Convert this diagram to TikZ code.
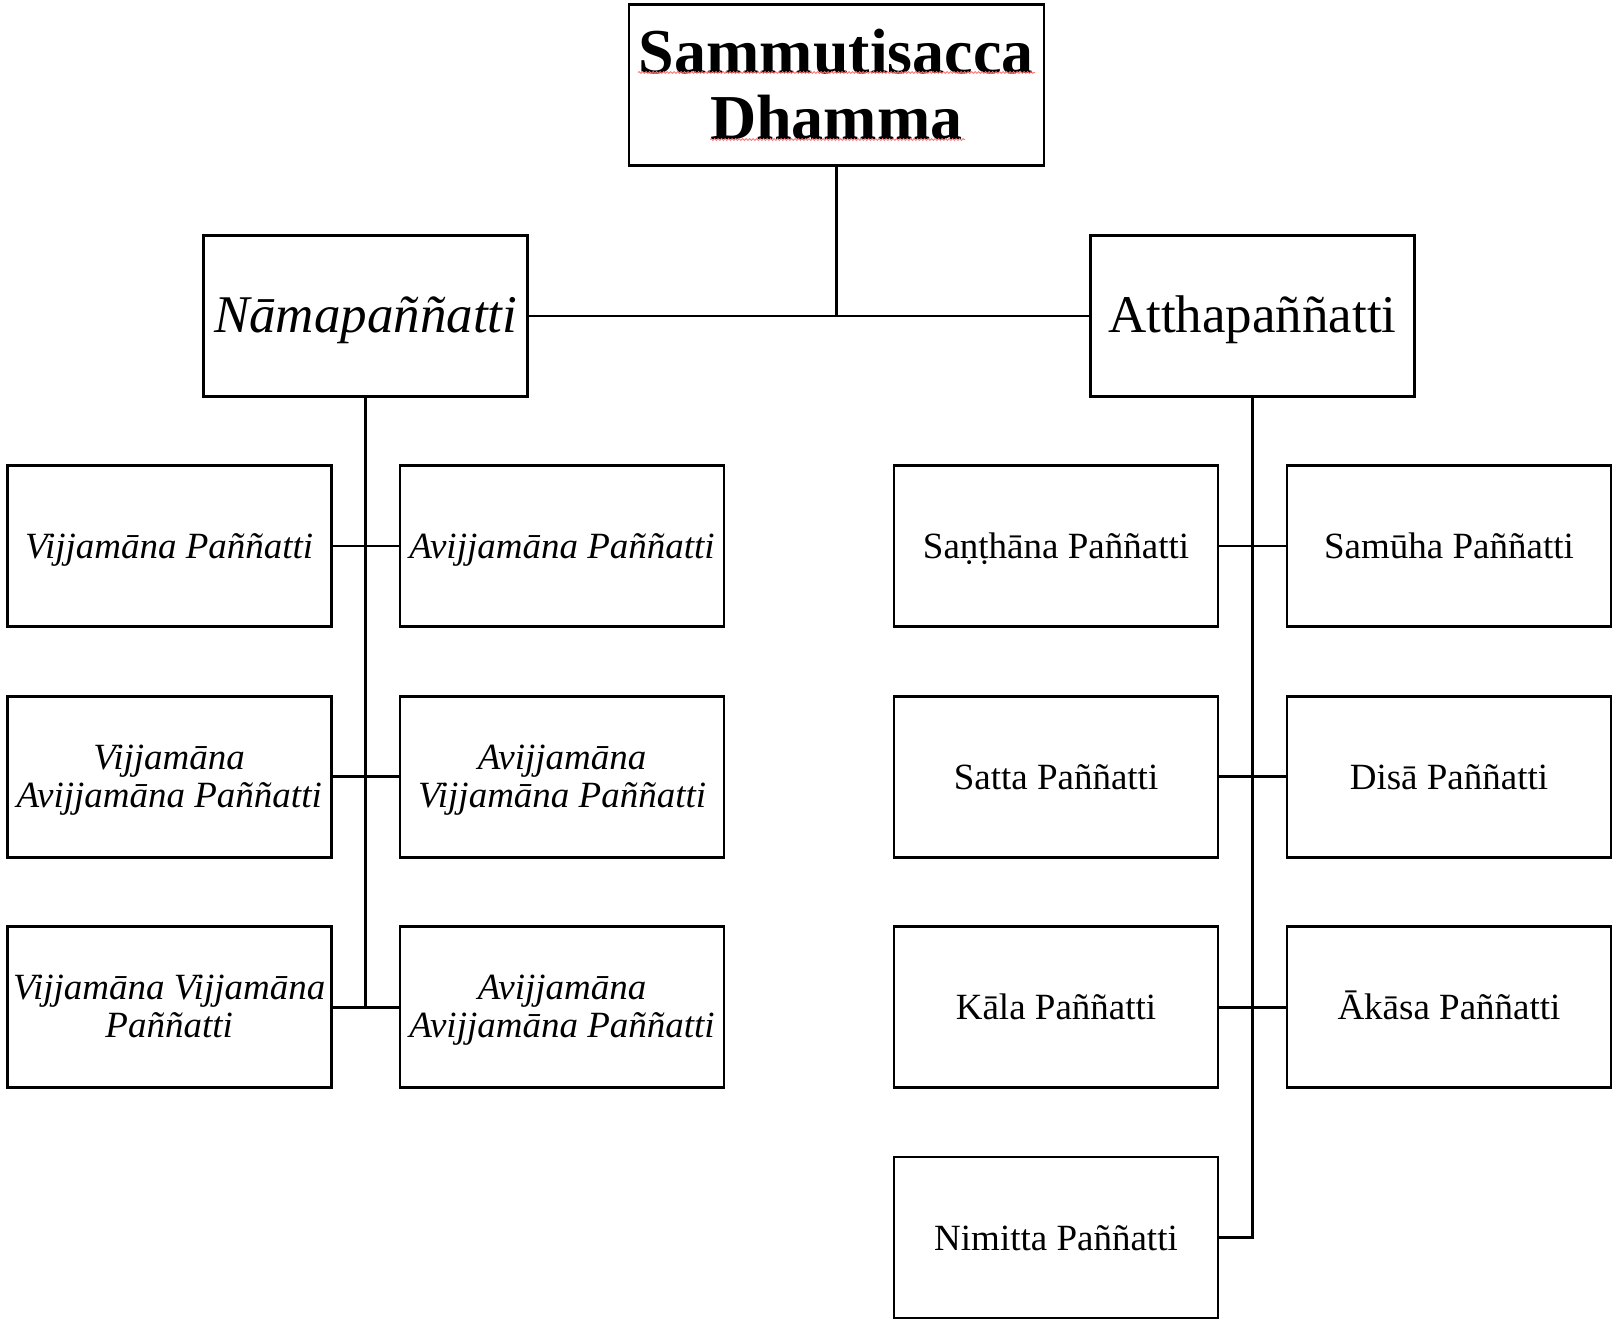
\documentclass[tikz,border=0pt]{standalone}
\usepackage{fontspec}
\setmainfont{Liberation Serif}
\usetikzlibrary{decorations.pathmorphing}
% two centred lines of text, set a little below the box centre
\newcommand{\twolines}[2]{\raisebox{-4pt}[\height][\depth]{\begin{tabular}{@{}c@{}}#1\\#2\end{tabular}}}
\begin{document}
\begin{tikzpicture}[x=1pt,y=-1pt,
  box/.style={draw=black,line width=2.6pt,fill=white,inner sep=0pt,
    minimum width=324pt,minimum height=161pt,align=center,
    font=\fontsize{37}{38}\selectfont},
  oneline/.style={box,text height=33pt,text depth=8pt},
  twoline/.style={box,align=none},
  headbox/.style={box,text height=42pt,text depth=9pt,
    font=\fontsize{53}{56}\selectfont},
  titlebox/.style={box,minimum width=415pt,minimum height=161pt,
    font=\bfseries\fontsize{64}{66}\selectfont},
  link/.style={line width=2.6pt,line cap=rect},
  squiggle/.style={draw=red!55,line width=0.8pt,
    decorate,decoration={snake,amplitude=0.9pt,segment length=3.5pt}}]
\useasboundingbox (0,0) rectangle (1613,1319);

% top level
\node[titlebox] (title) at (836.3,84.8) {Sammutisacca\\Dhamma};
\node[headbox] (nama)  at (365.7,315.8) {\itshape Nāmapaññatti};
\node[headbox] (attha) at (1252.4,315.8) {Atthapaññatti};

% Nāmapaññatti branch
\node[oneline] (l1) at (169.2,545.8) {\itshape Vijjamāna Paññatti};
\node[oneline] (r1) at (562.1,545.8) {\itshape Avijjamāna Paññatti};
\node[twoline] (l2) at (169.2,776.7) {\itshape\twolines{Vijjamāna}{Avijjamāna Paññatti}};
\node[twoline] (r2) at (562.1,776.7) {\itshape\twolines{Avijjamāna}{Vijjamāna Paññatti}};
\node[twoline] (l3) at (169.2,1007.2) {\itshape\twolines{Vijjamāna Vijjamāna}{Paññatti}};
\node[twoline] (r3) at (562.1,1007.2) {\itshape\twolines{Avijjamāna}{Avijjamāna Paññatti}};

% Atthapaññatti branch
\node[oneline] (s1) at (1056,545.8) {Saṇṭhāna Paññatti};
\node[oneline] (t1) at (1449,545.8) {Samūha Paññatti};
\node[oneline] (s2) at (1056,776.7) {Satta Paññatti};
\node[oneline] (t2) at (1449,776.7) {Disā Paññatti};
\node[oneline] (s3) at (1056,1007.2) {Kāla Paññatti};
\node[oneline] (t3) at (1449,1007.2) {Ākāsa Paññatti};
\node[oneline] (s4) at (1056,1237.5) {Nimitta Paññatti};

% connectors
\draw[link] (nama.east) -- (attha.west);
\draw[link] (title.south) -- (title.south |- nama.east);
\draw[link] (nama.south) -- (nama.south |- l3.east);
\draw[link] (l1.east) -- (r1.west);
\draw[link] (l2.east) -- (r2.west);
\draw[link] (l3.east) -- (r3.west);
\draw[link] (attha.south) -- (attha.south |- s4.east) -- (s4.east);
\draw[link] (s1.east) -- (t1.west);
\draw[link] (s2.east) -- (t2.west);
\draw[link] (s3.east) -- (t3.west);

% spell-check marks under the title words
\draw[squiggle] (638,72.5) -- (1035,72.5);
\draw[squiggle] (710,139.5) -- (965,139.5);
\end{tikzpicture}
\end{document}
